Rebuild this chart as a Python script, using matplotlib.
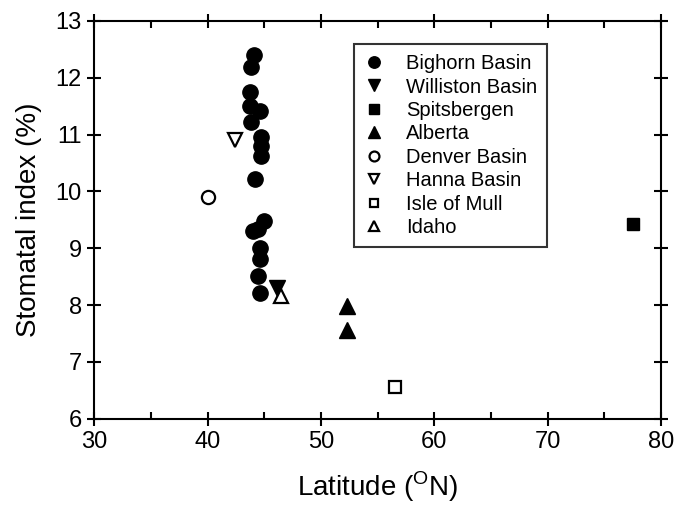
import matplotlib
matplotlib.use('Agg')
import matplotlib.pyplot as plt
from matplotlib.ticker import MultipleLocator

plt.rcParams['font.family'] = ['Liberation Sans', 'DejaVu Sans']
plt.rcParams['mathtext.fontset'] = 'custom'
plt.rcParams['mathtext.rm'] = 'Liberation Sans'

# Datos (latitud, indice estomatico)
bighorn_lat = [44.1, 43.8, 43.7, 43.7, 44.6, 43.8, 44.7, 44.7, 44.7, 44.2,
               45.0, 44.0, 44.4, 44.6, 44.6, 44.4, 44.6]
bighorn_si = [12.41, 12.19, 11.75, 11.50, 11.42, 11.23, 10.96, 10.80, 10.63, 10.22,
              9.48, 9.30, 9.34, 9.01, 8.81, 8.52, 8.22]
williston_lat = [46.1]
williston_si = [8.30]
spits_lat = [77.5]
spits_si = [9.42]
alberta_lat = [52.3, 52.3]
alberta_si = [7.98, 7.56]
denver_lat = [40.0]
denver_si = [9.90]
hanna_lat = [42.4]
hanna_si = [10.90]
mull_lat = [56.5]
mull_si = [6.55]
idaho_lat = [46.5]
idaho_si = [8.16]

fig = plt.figure(figsize=(6.75, 5.08), dpi=100)
ax = fig.add_axes([0.1397, 0.1758, 0.8396, 0.7829])

ms = 11
ax.plot(bighorn_lat, bighorn_si, 'o', color='black', ms=ms, label='Bighorn Basin')
ax.plot(williston_lat, williston_si, 'v', color='black', ms=ms, label='Williston Basin')
ax.plot(spits_lat, spits_si, 's', color='black', ms=ms - 2, label='Spitsbergen')
ax.plot(alberta_lat, alberta_si, '^', color='black', ms=ms, label='Alberta')
ax.plot(denver_lat, denver_si, 'o', mfc='white', mec='black', mew=1.6, ms=ms - 1.5, label='Denver Basin')
ax.plot(hanna_lat, hanna_si, 'v', mfc='white', mec='black', mew=1.6, ms=ms - 0.5, label='Hanna Basin')
ax.plot(mull_lat, mull_si, 's', mfc='white', mec='black', mew=1.6, ms=ms - 2.5, label='Isle of Mull')
ax.plot(idaho_lat, idaho_si, '^', mfc='white', mec='black', mew=1.6, ms=ms - 0.5, label='Idaho')

ax.set_xlim(30, 80)
ax.set_ylim(6, 13)
ax.xaxis.set_major_locator(MultipleLocator(10))
ax.xaxis.set_minor_locator(MultipleLocator(5))
ax.yaxis.set_major_locator(MultipleLocator(1))

for s in ax.spines.values():
    s.set_linewidth(1.5)
ax.tick_params(which='major', direction='inout', length=10, width=1.5,
               top=True, right=True, labelsize=17, pad=4)
ax.tick_params(which='minor', direction='in', length=5, width=1.5, top=True)

ax.set_xlabel(r'Latitude ($^{\rm O}$N)', fontsize=20, labelpad=12)
ax.set_ylabel('Stomatal index (%)', fontsize=20, labelpad=10)

leg = ax.legend(loc='upper left', bbox_to_anchor=(0.458, 0.942), fontsize=14.5,
                frameon=True, fancybox=False, edgecolor='black', numpoints=1,
                markerscale=0.75, handlelength=1.0, handletextpad=1.1,
                labelspacing=0.22, borderpad=0.5, borderaxespad=0)
leg.get_frame().set_linewidth(1.5)

fig.savefig('out.png', dpi=100)
